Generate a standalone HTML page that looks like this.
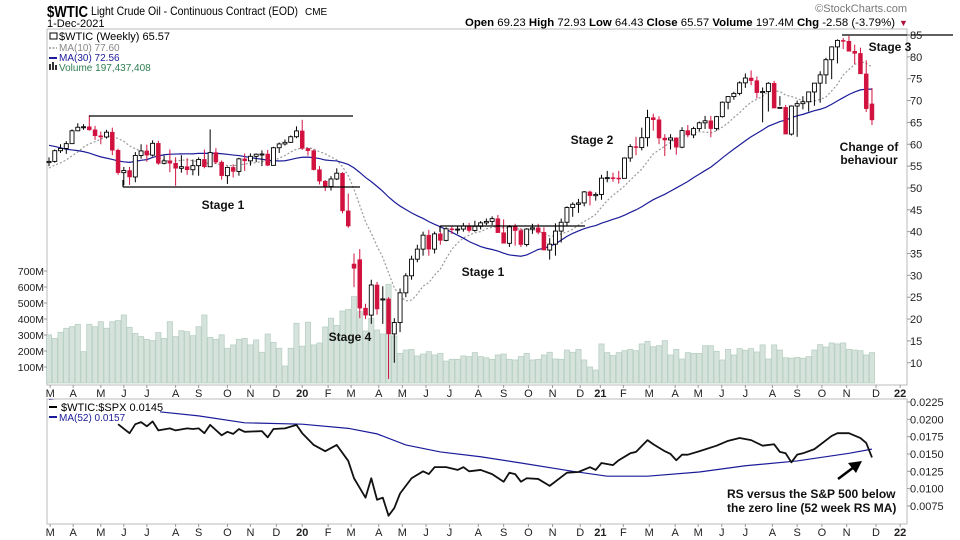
<!DOCTYPE html>
<html><head><meta charset="utf-8">
<style>
html,body{margin:0;padding:0;background:#fff;}
svg{display:block;font-family:"Liberation Sans",Arial,sans-serif;}
</style></head>
<body>
<svg id="chart" width="960" height="540" viewBox="0 0 960 540" xmlns="http://www.w3.org/2000/svg">
  <rect x="0" y="0" width="960" height="540" fill="#fff"/>
  <g>
    <text x="47" y="17" font-size="16" font-weight="bold" fill="#000" textLength="41" lengthAdjust="spacingAndGlyphs">$WTIC</text>
    <text x="91" y="15" font-size="12" fill="#000" textLength="207" lengthAdjust="spacingAndGlyphs">Light Crude Oil - Continuous Contract (EOD)</text>
    <text x="305" y="15" font-size="10" fill="#000">CME</text>
    <text x="47" y="27" font-size="11" fill="#000">1-Dec-2021</text>
    <text x="907" y="12" font-size="11" fill="#777" text-anchor="end">©StockCharts.com</text>
    <text x="465" y="26" font-size="11" fill="#000" textLength="430" lengthAdjust="spacingAndGlyphs"><tspan font-weight="bold">Open</tspan> 69.23  <tspan font-weight="bold">High</tspan> 72.93  <tspan font-weight="bold">Low</tspan> 64.43  <tspan font-weight="bold">Close</tspan> 65.57  <tspan font-weight="bold">Volume</tspan> 197.4M  <tspan font-weight="bold">Chg</tspan> -2.58 (-3.79%)</text>
    <text x="899" y="26" font-size="9" fill="#b0103a">▼</text>
  </g>
  <g id="main"></g>
  <g id="rs"></g>
</svg>
<script>
// ---------- DATA ----------
const preCloses = [65.91,68.72,69.80,67.75,68.99,70.78,73.25,75.30,74.34,71.34,67.59,63.69,60.19,56.46,50.42,51.20,52.61,45.59,45.33,47.96,51.59,53.80,53.69,53.55,55.26,52.72,55.59,57.26,55.80];
const closes = [56.07,58.52,59.04,60.14,63.08,63.89,64.00,63.30,61.94,61.66,
62.76,58.63,53.50,53.99,52.51,57.43,58.47,57.51,60.21,55.63,
56.20,55.66,54.50,54.87,54.17,55.10,56.52,54.85,58.09,55.91,
52.81,54.70,53.78,56.66,56.20,57.24,57.72,57.77,55.17,59.20,
60.07,60.44,61.72,63.05,59.04,58.54,54.19,51.56,50.32,52.05,
53.38,44.76,41.28,31.6,22.5,20.9,27.8,22.3,24.6,16.6,
19.2,26.0,29.9,33.7,36.0,39.2,36.0,39.5,38.0,40.65,
40.55,40.59,41.29,40.27,41.22,42.01,42.34,42.97,39.77,37.33,
41.11,40.25,37.05,40.60,40.88,39.85,35.79,37.14,40.13,42.15,
45.53,46.26,46.57,49.10,48.23,48.52,
52.24,52.36,52.27,52.20,56.85,59.47,59.24,61.50,66.09,65.61,
61.42,60.97,61.45,59.32,63.13,62.14,63.58,64.90,65.37,63.58,
66.32,69.62,70.91,71.64,74.05,75.16,74.56,71.81,72.07,73.95,
68.28,68.44,62.32,68.74,69.29,69.72,71.97,73.98,75.88,79.35,
82.28,83.76,83.57,81.27,80.79,76.10,68.15,65.57];
const highs = [57.0,58.8,60.0,60.7,63.4,64.8,64.6,66.6,64.2,62.9,
63.3,63.8,59.0,54.8,54.8,58.2,60.0,59.9,60.9,60.8,
57.4,58.8,57.0,57.5,56.8,56.5,57.0,58.8,63.4,59.1,
56.3,54.9,55.4,56.9,57.9,57.9,57.9,58.6,58.7,59.4,
60.4,61.1,62.0,64.1,65.6,59.1,58.8,55.0,51.8,52.7,
54.5,53.6,48.7,35.0,36.0,23.5,29.0,28.5,27.5,25.0,
20.2,27.0,30.5,34.5,37.0,40.0,40.4,40.0,40.0,41.0,
41.4,41.3,42.0,42.0,42.5,42.4,43.0,43.5,43.8,42.8,
41.5,41.8,40.8,40.8,41.8,41.8,41.0,38.5,41.9,43.0,
45.8,46.7,47.5,49.3,49.4,49.0,53.0,53.9,53.5,53.9,
57.0,60.0,61.7,63.8,67.9,67.0,66.4,62.3,62.3,61.6,
63.9,64.4,64.0,65.2,66.5,66.5,66.5,69.8,71.0,72.0,
74.4,76.2,76.9,75.5,73.0,74.2,74.5,71.0,69.0,68.9,
70.0,71.0,72.0,74.0,76.7,79.8,82.4,84.0,84.3,84.8,
82.8,82.1,79.2,72.9];
const lows = [55.0,55.8,58.0,57.8,60.1,63.0,63.3,63.1,61.0,60.0,
61.3,57.5,53.0,50.6,50.7,51.3,56.7,56.0,57.2,55.3,
55.4,53.6,50.5,53.5,53.0,52.9,52.8,54.5,57.0,55.5,
51.9,50.9,52.4,52.8,53.9,55.1,55.9,55.0,55.0,55.3,
58.0,59.7,60.3,61.4,58.7,57.4,54.0,50.8,49.3,49.4,
51.8,44.2,40.9,27.3,20.2,20.0,18.9,21.0,18.9,6.3,
10.0,17.0,25.0,29.0,33.0,34.5,34.5,35.0,37.0,37.8,
39.5,39.5,40.0,39.8,40.0,40.5,41.5,41.5,42.0,39.2,
36.5,36.8,36.5,36.6,39.5,39.4,38.5,33.6,34.5,37.5,
41.4,43.4,44.3,45.8,46.0,47.1,47.3,51.3,51.4,51.0,
52.5,56.0,57.5,58.6,59.5,63.1,60.0,57.3,58.8,57.6,
59.1,61.6,61.4,63.0,63.5,61.6,63.1,66.1,68.0,70.2,
71.2,72.9,73.5,70.5,65.0,67.5,70.3,68.8,67.2,62.0,
61.7,68.0,67.5,68.8,69.5,73.8,74.9,78.5,81.8,82.0,
78.3,79.8,67.4,64.4];
const openGaps = {53:32.6, 54:33.6, 58:24.4, 143:69.23};
const volumes = [301,279,317,342,352,367,196,367,352,383,342,
383,390,425,348,310,290,273,265,315,279,
383,290,327,321,296,352,425,285,273,301,
217,238,273,279,238,269,192,306,254,217,
106,217,373,
230,380,238,250,350,405,360,450,460,
540,446,325,404,331,306,617,294,185,206,210,169,181,196,175,185,137,148,148,169,165,190,
165,158,148,175,181,148,144,165,185,144,148,175,192,150,148,206,192,210,144,100,
81,244,190,172,190,202,210,202,244,260,227,233,265,175,210,150,190,185,185,233,
233,198,144,210,175,215,205,215,194,238,150,238,206,158,155,160,155,165,206,240,
225,250,244,250,210,206,202,175,190];
const priceTicks = [85,80,75,70,65,60,55,50,45,40,35,30,25,20,15,10];
const volTicks = [700,600,500,400,300,200,100];
const rsTicks = [0.0225,0.0200,0.0175,0.0150,0.0125,0.0100,0.0075];
const monthLabels = ["M","A","M","J","J","A","S","O","N","D","20","F","M","A","M","J","J","A","S","O","N","D","21","F","M","A","M","J","J","A","S","O","N","D","22"];
const monthWeeks = [0.2,4.2,9,13,17,22,26,31,35,39.5,44,48.5,52.5,57.3,61.4,65.5,69.6,74.6,79,83.3,87.5,92.3,95.8,99.8,104.3,108.8,112.8,116.9,121,125.7,130,134.3,138.6,143.7,147.9];
const rsWeeks = [12,14,15,16,17,18,19,21,22,24,25,26,27,28,30,31,32,33,34,37,38,39,41,43,44,46,48,50,52,53,54,55,56,57,58,59,60,61,63,65,66,67,69,71,72,73,75,77,79,80,81,82,83,85,87,90,92,94,95,96,98,99,101,102,104,105,107,108,109,110,111,113,116,118,120,122,124,126,127,128,129,130,131,133,136,137,139,141,142,143];
const rsValues = [0.0193,0.0180,0.0193,0.0196,0.0190,0.0197,0.0184,0.0187,0.0184,0.0187,0.0186,0.0187,0.0180,0.0192,0.0177,0.0182,0.0179,0.0186,0.0182,0.0183,0.0174,0.0186,0.0187,0.0192,0.0180,0.0163,0.0154,0.0163,0.0140,0.0115,0.0101,0.0087,0.0115,0.0084,0.0087,0.0061,0.0072,0.0093,0.0115,0.0125,0.0121,0.0131,0.0131,0.0127,0.0131,0.0125,0.0127,0.0121,0.0110,0.0123,0.0121,0.0110,0.0115,0.0114,0.0104,0.0123,0.0124,0.0131,0.0127,0.0137,0.0134,0.0141,0.0151,0.0153,0.0170,0.0164,0.0154,0.0150,0.0141,0.0149,0.0149,0.0154,0.0162,0.0169,0.0173,0.0170,0.0162,0.0164,0.0153,0.0151,0.0138,0.0149,0.0151,0.0157,0.0176,0.0180,0.0180,0.0173,0.0166,0.0145];
const rsMaWeeks = [0,19,26,34,44,52,57,62,68,75,82,91,97,104,113,121,130,139,143];
const rsMaValues = [0.0228,0.0211,0.0205,0.0195,0.0193,0.0187,0.0179,0.0163,0.0153,0.0146,0.0137,0.0125,0.0118,0.0118,0.0124,0.0133,0.0140,0.0151,0.0157];

// ---------- SCALES ----------
const NS='http://www.w3.org/2000/svg';
const X0=49, DX=5.755;
function xW(i){return X0+i*DX;}
function yP(p){return 35+(85-p)*4.37;}
function yV(v){return 383-v*0.16;}
function yR(v){return 402+(0.0225-v)*6932;}
function mk(tag,attrs,parent){const e=document.createElementNS(NS,tag);for(const k in attrs)e.setAttribute(k,attrs[k]);parent.appendChild(e);return e;}
const main=document.getElementById('main');
const rsG=document.getElementById('rs');

let f=mk('rect',{x:47,y:29,width:860,height:356,fill:'none',stroke:'#bbb','stroke-width':1},main);


f=mk('rect',{x:47,y:399,width:860,height:125,fill:'none',stroke:'#bbb','stroke-width':1},rsG);



volumes.forEach((v,i)=>{
  const b=mk('rect',{x:xW(i)-2.6,y:yV(v),width:5.2,height:383-yV(v),fill:'#d5e3dc',stroke:'#b9d0c4','stroke-width':0.8},main);
  
  
});

const all=preCloses.concat(closes);
function ma(n){const out=[];for(let i=0;i<closes.length;i++){const j=i+preCloses.length;let s=0;for(let k=j-n+1;k<=j;k++)s+=all[k];out.push(s/n);}return out;}
const ma10=ma(10), ma30=ma(30);
let l=mk('polyline',{points:ma10.map((v,i)=>xW(i)+','+yP(v)).join(' '),fill:'none',stroke:'#9a9a9a','stroke-width':1.2,'stroke-dasharray':'2,2'},main);


l=mk('polyline',{points:ma30.map((v,i)=>xW(i)+','+yP(v)).join(' '),fill:'none',stroke:'#1c1c9a','stroke-width':1.2},main);



closes.forEach((c,i)=>{
  const o = (openGaps[i]!==undefined)?openGaps[i]:(i===0?55.8:closes[i-1]);
  const up=c>=o;
  const col=up?'#000':'#d1123f';
  const g=mk('g',{},main);
  
  
  mk('line',{x1:xW(i),x2:xW(i),y1:yP(highs[i]),y2:yP(lows[i]),stroke:col,'stroke-width':1},g);
  const top=yP(Math.max(o,c)), bot=yP(Math.min(o,c));
  mk('rect',{x:xW(i)-2,y:top,width:4,height:Math.max(1,bot-top),fill:up?'#fff':'#d1123f',stroke:col,'stroke-width':up?0.9:0.5},g);
});

[[89,116,353,116],[123,187,360,187],[123,180,123,187],[440,226,585,226],[440,226,440,232],[842,35,953,35]].forEach(a=>{
  const ln=mk('line',{x1:a[0],y1:a[1],x2:a[2],y2:a[3],stroke:'#000','stroke-width':1.2},main);
  
  
});

priceTicks.forEach(p=>{
  mk('line',{x1:907,x2:911,y1:yP(p),y2:yP(p),stroke:'#999'},main);
  const t=mk('text',{x:910,y:yP(p)+4,'font-size':11,fill:'#222'},main);
  t.textContent=p;
  
  
});
volTicks.forEach(v=>{
  mk('line',{x1:44,x2:47,y1:yV(v),y2:yV(v),stroke:'#999'},main);
  const t=mk('text',{x:44,y:yV(v)+4,'font-size':10.5,fill:'#222','text-anchor':'end'},main);
  t.textContent=v+'M';
  
  
});
[[393,main,385],[532,rsG,524]].forEach(([ty,par,ay])=>{
  monthLabels.forEach((m,k)=>{
    const x=xW(monthWeeks[k]);
    mk('line',{x1:x,x2:x,y1:ay,y2:ay+3,stroke:'#999'},par);
    const t=mk('text',{x:x,y:ty+4,'font-size':11,fill:'#222','text-anchor':'middle','font-weight':(m.length===2?'bold':'normal')},par);
    t.textContent=m;
    
    
  });
});

rsTicks.forEach(v=>{
  mk('line',{x1:907,x2:911,y1:yR(v),y2:yR(v),stroke:'#999'},rsG);
  const t=mk('text',{x:910,y:yR(v)+4,'font-size':11,fill:'#222'},rsG);
  t.textContent=v.toFixed(4);
  
  
});
l=mk('polyline',{points:rsMaWeeks.map((w,k)=>xW(w)+','+yR(rsMaValues[k])).join(' '),fill:'none',stroke:'#1c1c9a','stroke-width':1.2},rsG);


l=mk('polyline',{points:rsWeeks.map((w,k)=>xW(w)+','+yR(rsValues[k])).join(' '),fill:'none',stroke:'#111','stroke-width':1.8,'stroke-linejoin':'round'},rsG);


</script>
<script>
(function(){
const NS='http://www.w3.org/2000/svg';
const svg=document.getElementById('chart');
function mk(tag,attrs,parent){const e=document.createElementNS(NS,tag);for(const k in attrs)e.setAttribute(k,attrs[k]);parent.appendChild(e);return e;}
const g=mk('g',{},svg);


mk('rect',{x:48,y:30,width:102,height:44,fill:'#fff'},g);
const leg=[['$WTIC (Weekly) 65.57','#000',40,'price-legend'],['MA(10) 77.60','#888',51,'ma10-legend'],['MA(30) 72.56','#1c1c9a',61,'ma30-legend'],['Volume 197,437,408','#2e7d4f',71,'volume-legend']];
leg.forEach(r=>{
  const t=mk('text',{x:59,y:r[2],'font-size':r[0].startsWith('$')?11:10,fill:r[1]},g);
  t.textContent=r[0];
  
  
});
mk('line',{x1:49,x2:57,y1:48,y2:48,stroke:'#999','stroke-dasharray':'2,1.5','stroke-width':1.5},g);
mk('line',{x1:49,x2:57,y1:58,y2:58,stroke:'#1c1c9a','stroke-width':2},g);
mk('rect',{x:49,y:64,width:2,height:6,fill:'#333'},g);mk('rect',{x:52,y:62,width:2,height:8,fill:'#333'},g);mk('rect',{x:55,y:65,width:2,height:5,fill:'#333'},g);
mk('rect',{x:50,y:33,width:7,height:6,fill:'none',stroke:'#000','stroke-width':1},g);
mk('rect',{x:48,y:400,width:112,height:18,fill:'#fff'},g);
mk('line',{x1:49,x2:57,y1:407,y2:407,stroke:'#000','stroke-width':2},g);
mk('line',{x1:49,x2:57,y1:417,y2:417,stroke:'#1c1c9a','stroke-width':2},g);
let t=mk('text',{x:61,y:411,'font-size':11,fill:'#000'},g);t.textContent='$WTIC:$SPX 0.0145';


t=mk('text',{x:59,y:421,'font-size':10,fill:'#1c1c9a'},g);t.textContent='MA(52) 0.0157';


const labels=[['Stage 1',223,209,'middle','stage1-2019-label'],['Stage 4',350,341,'middle','stage4-label'],['Stage 1',483,276,'middle','stage1-2020-label'],['Stage 2',592,144,'middle','stage2-label'],['Stage 3',890,51,'middle','stage3-label'],['Change of',869,151,'middle','change-of-behaviour-label'],['behaviour',869,164,'middle','change-of-behaviour-label-2'],['RS versus the S&P 500 below',727,498,'start','rs-note-line1'],['the zero line (52 week RS MA)',727,512,'start','rs-note-line2']];
labels.forEach(r=>{
  const e=mk('text',{x:r[1],y:r[2],'font-size':12,'font-weight':'bold',fill:'#111','text-anchor':r[3]},g);
  e.textContent=r[0];
  
  
});
const ar=mk('g',{},g);


mk('line',{x1:838,y1:479,x2:854,y2:467,stroke:'#000','stroke-width':2.5},ar);
mk('polygon',{points:'862,461 848,463 856,473',fill:'#000'},ar);
})();
</script>
</body></html>
